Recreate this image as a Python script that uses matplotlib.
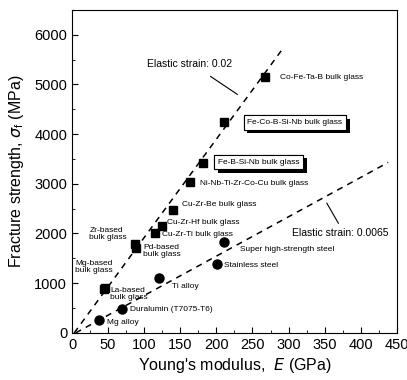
import matplotlib
matplotlib.use('Agg')
import matplotlib.pyplot as plt
import matplotlib.patheffects as pe
from matplotlib.ticker import MultipleLocator

plt.rcParams['font.family'] = ['Liberation Sans', 'DejaVu Sans']

# bulk metallic glasses (squares): Young's modulus (GPa), fracture strength (MPa)
glass_E = [268, 210, 182, 164, 140, 124, 115, 87, 88, 45, 44]
glass_S = [5150, 4250, 3420, 3040, 2470, 2160, 2010, 1780, 1710, 910, 880]

# crystalline alloys (circles)
alloy_E = [38, 69, 121, 210, 201]
alloy_S = [250, 477, 1100, 1825, 1390]

# elastic strain guide lines as drawn
line_hi_E = [3, 291]
line_hi_S = [0, 5700]
line_lo_E = [5, 438]
line_lo_S = [0, 3430]

# annotation text and anchor (E, strength)
labels = [
    ('Co-Fe-Ta-B bulk glass', 288, 5145),
    ('Ni-Nb-Ti-Zr-Co-Cu bulk glass', 177, 3010),
    ('Cu-Zr-Be bulk glass', 153, 2575),
    ('Cu-Zr-Hf bulk glass', 132, 2220),
    ('Cu-Zr-Ti bulk glass', 125, 1985),
    ('Zr-based\nbulk glass', 24, 1990),
    ('Pd-based\nbulk glass', 99, 1645),
    ('Mg-based\nbulk glass', 4, 1330),
    ('La-based\nbulk glass', 53, 775),
    ('Ti alloy', 139, 930),
    ('Duralumin (T7075-T6)', 80, 477),
    ('Mg alloy', 48, 215),
    ('Super high-strength steel', 233, 1670),
    ('Stainless steel', 211, 1350),
]
boxed = [
    ('Fe-Co-B-Si-Nb bulk glass', 243, 4230),
    ('Fe-B-Si-Nb bulk glass', 202, 3435),
]

fig = plt.figure(figsize=(4.07, 3.8), dpi=100)
ax = fig.add_axes([0.177, 0.124, 0.798, 0.85])

ax.plot(line_hi_E, line_hi_S, 'k--', lw=1.1, dashes=(4, 3.5))
ax.plot(line_lo_E, line_lo_S, 'k--', lw=1.1, dashes=(4, 3.5))
ax.plot(glass_E, glass_S, 'ks', ms=5.5, ls='none')
ax.plot(alloy_E, alloy_S, 'ko', ms=6.5, ls='none')

for txt, x, y in labels:
    ax.text(x, y, txt, fontsize=6, va='center', ha='left', linespacing=1.0)

for txt, x, y in boxed:
    t = ax.text(x, y, txt, fontsize=6, va='center', ha='left',
                bbox=dict(boxstyle='square,pad=0.45', fc='white', ec='black', lw=0.8))
    t.get_bbox_patch().set_path_effects(
        [pe.withSimplePatchShadow(offset=(2.5, -2.5), shadow_rgbFace='black', alpha=1),
         pe.Normal()])

ax.text(104, 5410, 'Elastic strain: 0.02', fontsize=7.5, va='center')
ax.plot([192, 229], [5160, 4800], 'k-', lw=0.8)
ax.text(305, 2018, 'Elastic strain: 0.0065', fontsize=7.5, va='center')
ax.plot([353, 369], [2610, 2207], 'k-', lw=0.8)

ax.set_xlim(0, 450)
ax.set_ylim(0, 6500)
ax.xaxis.set_major_locator(MultipleLocator(50))
ax.xaxis.set_minor_locator(MultipleLocator(25))
ax.yaxis.set_major_locator(MultipleLocator(1000))
ax.yaxis.set_minor_locator(MultipleLocator(500))
ax.tick_params(which='both', direction='in', labelsize=10.5)
ax.tick_params(which='major', length=4)
ax.tick_params(which='minor', length=2)
ax.set_xlabel("Young's modulus,  $\\it{E}$ (GPa)", fontsize=11.5, labelpad=3)
ax.set_ylabel('Fracture strength, $\\sigma_\\mathregular{f}$ (MPa)', fontsize=11.5, labelpad=6)

plt.savefig('out.png', dpi=100)
